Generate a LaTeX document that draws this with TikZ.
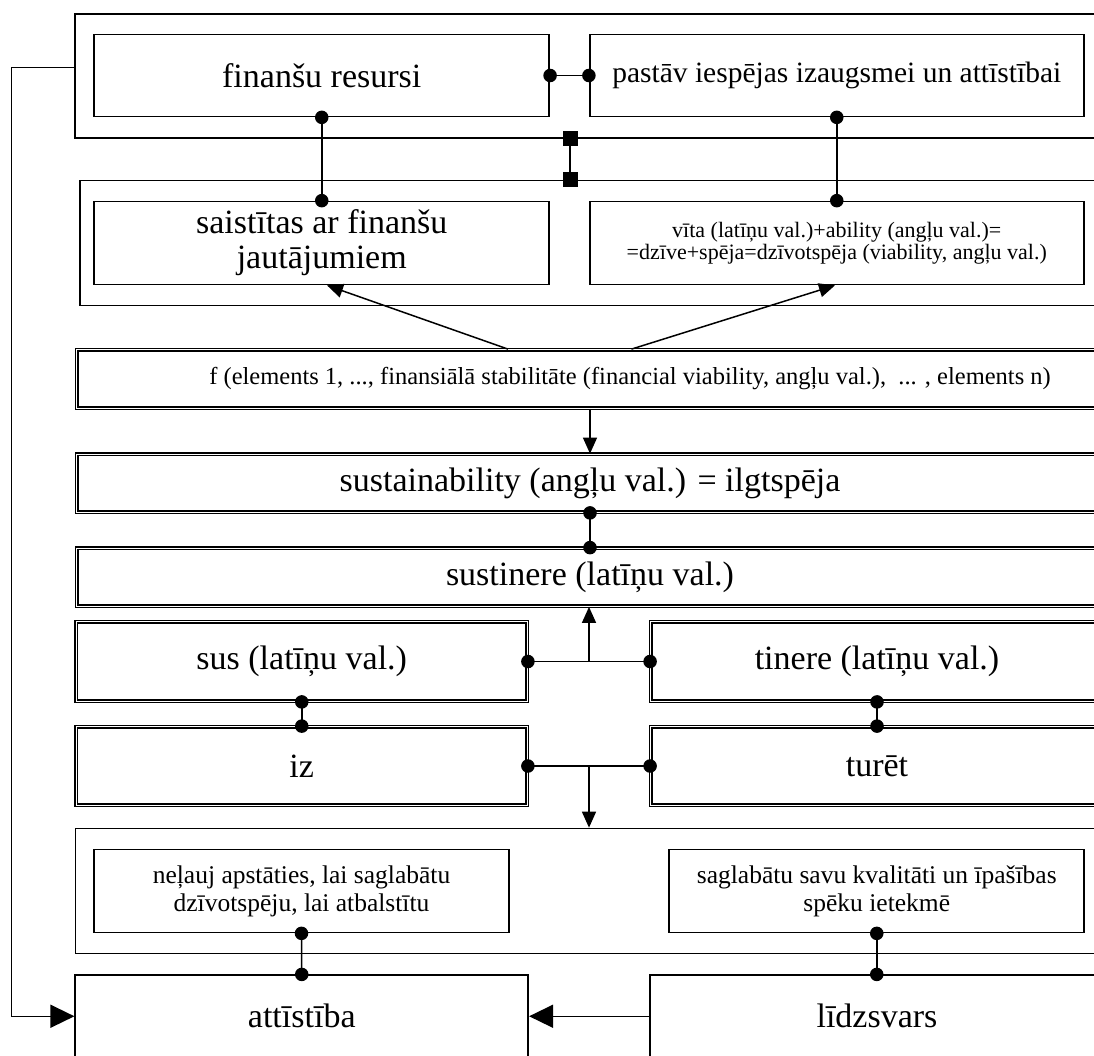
\documentclass[tikz,border=0pt]{standalone}
\usepackage{fontspec}
\setmainfont{Liberation Serif}
\usetikzlibrary{arrows.meta,calc}
\begin{document}
\begin{tikzpicture}[x=1pt,y=-1pt,
  box/.style={draw, line width=1.7pt, inner sep=0pt, align=center},
  dbox/.style={draw, line width=1.3pt, double, double distance=1.4pt, inner sep=0pt, align=center},
  fbig/.style={font=\fontsize{34}{44}\selectfont},
  ftwo/.style={font=\fontsize{34}{35}\selectfont},
  fmid/.style={font=\fontsize{29.5}{36}\selectfont},
  fsmall/.style={font=\fontsize{22}{22}\selectfont},
  fnote/.style={font=\fontsize{25.5}{28}\selectfont},
  fform/.style={font=\fontsize{24.5}{28}\selectfont},
  dotlink/.style={line width=1.5pt, {Circle[length=13.5pt]}-{Circle[length=13.5pt]},
    shorten <=-6.75pt, shorten >=-6.75pt},
  sqlink/.style={line width=1.5pt, {Square[length=15pt,width=15pt]}-{Square[length=15pt,width=15pt]},
    shorten <=-7.5pt, shorten >=-7.5pt},
  arr/.style={line width=1.5pt, -{Triangle[length=16pt,width=14pt]}},
  bigarr/.style={line width=1.5pt, -{Triangle[length=24pt,width=23pt]}},
]
% canvas
\fill[white] (0,0) rectangle (1094,1055);
\useasboundingbox (0,0) rectangle (1094,1055);
\clip (0,0) rectangle (1094,1055);

% ---- top group: resources ----
\node[box, minimum width=1030pt, minimum height=124pt] (outer1) at (590,75.75) {};
\node[box, fbig, minimum width=455pt, minimum height=82pt] (fin) at (321.75,75.5) {finanšu resursi};
\node[box, fmid, minimum width=494pt, minimum height=82pt] (pas) at (836.75,75.5)
  {pastāv iespējas izaugsmei un attīstībai};

% ---- second group: meanings ----
\node[box, minimum width=1025pt, minimum height=125pt] (outer2) at (592.25,243) {};
\node[box, ftwo, minimum width=455pt, minimum height=83pt] (sai) at (321.75,243)
  {saistītas ar finanšu\\jautājumiem};
\node[box, fsmall, minimum width=494pt, minimum height=83pt] (vita) at (836.75,243)
  {vīta (latīņu val.)+ability (angļu val.)=\\=dzīve+spēja=dzīvotspēja (viability, angļu val.)};

% ---- function row ----
\node[dbox, fform, minimum width=1027pt, minimum height=58.5pt] (fbox) at (590,379)
  {\hspace*{80pt}f (elements 1, ..., finansiālā stabilitāte (financial viability, angļu val.),\ \ ... , elements n)};

% ---- etymology chain ----
\node[dbox, fbig, minimum width=1027pt, minimum height=58pt] (sust) at (590,483.25)
  {sustainability (angļu val.) = ilgtspēja};
\node[dbox, fbig, minimum width=1027pt, minimum height=58pt] (sustin) at (590,577.25)
  {sustinere (latīņu val.)};
\node[dbox, fbig, minimum width=451pt, minimum height=79.5pt] (sus) at (301.75,661.5)
  {sus (latīņu val.)};
\node[dbox, fbig, minimum width=452.5pt, minimum height=79.5pt] (tin) at (877,661.5)
  {tinere (latīņu val.)};
\node[dbox, fbig, minimum width=451pt, minimum height=78.5pt] (iz) at (301.75,766) {iz};
\node[dbox, fbig, minimum width=452.5pt, minimum height=78.5pt] (tur) at (877,766) {turēt};

% ---- lower group: purposes ----
\node[box, minimum width=1029pt, minimum height=125pt] (outer3) at (590,891) {};
\node[box, fnote, minimum width=414.5pt, minimum height=83pt] (nel) at (301.5,891)
  {neļauj apstāties, lai saglabātu\\dzīvotspēju, lai atbalstītu};
\node[box, fnote, minimum width=415pt, minimum height=83pt] (sag) at (876.75,891)
  {saglabātu savu kvalitāti un īpašības\\spēku ietekmē};

% ---- outcomes ----
\node[box, fbig, minimum width=453pt, minimum height=82pt] (att) at (301.75,1016.25) {attīstība};
\node[box, fbig, minimum width=454.5pt, minimum height=82pt] (lid) at (877,1016.25) {līdzsvars};

% ---- connectors ----
\draw[dotlink] (fin.east) -- (pas.west);
\draw[dotlink] (fin.south) -- (sai.north);
\draw[dotlink] (pas.south) -- (vita.north);

\coordinate (sqx) at (570,0);
\draw[sqlink] (outer1.south -| sqx) -- (outer2.north -| sqx);

\coordinate (a1) at (508,0);
\coordinate (a2) at (631.5,0);
\coordinate (t1) at (327,0);
\coordinate (t2) at (835,0);
\draw[arr] (fbox.north -| a1) -- (sai.south -| t1);
\draw[arr] (fbox.north -| a2) -- (vita.south -| t2);

\draw[arr] (fbox.south) -- (sust.north);
\draw[dotlink] (sust.south) -- (sustin.north);

\draw[dotlink] (sus.east) -- (tin.west);
\coordinate (m1) at ($(sus.east)!0.5!(tin.west)$);
\draw[arr] (m1) -- (m1 |- sustin.south);

\draw[dotlink] (sus.south) -- (iz.north);
\draw[dotlink] (tin.south) -- (tur.north);

\draw[dotlink] (iz.east) -- (tur.west);
\coordinate (m2) at ($(iz.east)!0.5!(tur.west)$);
\draw[arr] (m2) -- (m2 |- outer3.north);

\draw[dotlink] (nel.south) -- (att.north);
\draw[dotlink] (sag.south) -- (sag.south |- lid.north);

\draw[bigarr] (lid.west) -- (att.east);

% feedback line from the resources group to development
\coordinate (fbs) at ($(outer1.west)+(0,-8.5)$);
\coordinate (fbx) at (11.5,0);
\draw[bigarr] (fbs) -- (fbs -| fbx) |- (att.west);
\end{tikzpicture}
\end{document}
